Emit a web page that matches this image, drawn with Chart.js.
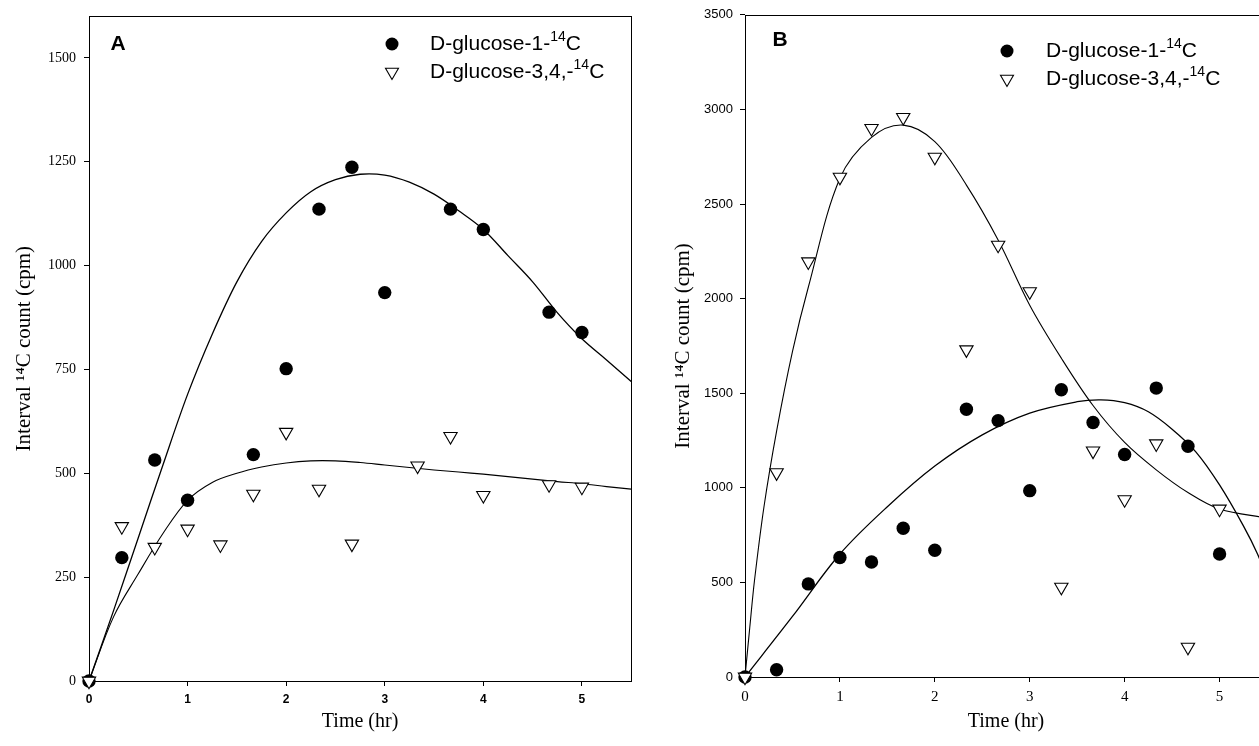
<!DOCTYPE html>
<html>
<head>
<meta charset="utf-8">
<script src="https://cdn.jsdelivr.net/npm/chart.js@4/dist/chart.umd.min.js"></script>
<style>
  html, body { margin: 0; padding: 0; background: #fff; overflow: hidden; }
  .panel { position: absolute; top: 0; width: 640px; height: 746px; }
  #panelA { left: 0; }
  #panelB { left: 640px; }
</style>
</head>
<body>
<div class="panel" id="panelA"><canvas id="chartA"></canvas></div>
<div class="panel" id="panelB"><canvas id="chartB"></canvas></div>
<script>
// ---- data ----
const seriesNames = ['D-glucose-1-\u00B9\u2074C', 'D-glucose-3,4,-\u00B9\u2074C'];
const legendParts = [['D-glucose-1-', '14', 'C'], ['D-glucose-3,4,-', '14', 'C']];

const xTicks = [0, 1, 2, 3, 4, 5];
const yTicksA = [0, 250, 500, 750, 1000, 1250, 1500];
const yTicksB = [0, 500, 1000, 1500, 2000, 2500, 3000, 3500];

// panel A, measured points
const timeA1 = [0, 0.333, 0.667, 1, 1.667, 2, 2.333, 2.667, 3, 3.667, 4, 4.667, 5];
const glc1A = [0, 297, 532, 435, 545, 752, 1136, 1237, 935, 1136, 1087, 888, 839];
const timeA34 = [0, 0.333, 0.667, 1, 1.333, 1.667, 2, 2.333, 2.667, 3.333, 3.667, 4, 4.667, 5];
const glc34A = [0, 372, 322, 366, 328, 450, 599, 462, 330, 518, 589, 447, 473, 467];

// panel A, fitted curves (read at these times)
const fitTimeA = [0, 0.25, 0.5, 0.75, 1, 1.25, 1.5, 1.75, 2, 2.25, 2.5, 2.75, 3, 3.25, 3.5, 3.75, 4, 4.25, 4.5, 4.75, 5, 5.25, 5.5];
const fit1A = [0, 170, 345, 520, 690, 835, 961, 1058, 1127, 1178, 1207, 1220, 1218, 1201, 1172, 1132, 1087, 1024, 961, 887, 824, 773, 721];
const fit34A = [0, 155, 258, 355, 435, 478, 500, 515, 525, 530, 530, 526, 520, 514, 508, 503, 498, 492, 486, 480, 475, 468, 462];

// panel B, measured points
const timeB1 = [0, 0.333, 0.667, 1, 1.333, 1.667, 2, 2.333, 2.667, 3, 3.333, 3.667, 4, 4.333, 4.667, 5];
const glc1B = [0, 38, 492, 632, 608, 786, 670, 1415, 1355, 985, 1518, 1345, 1176, 1527, 1220, 650];
const timeB34 = [0, 0.333, 0.667, 1, 1.333, 1.667, 2, 2.333, 2.667, 3, 3.333, 3.667, 4, 4.333, 4.667, 5];
const glc34B = [0, 1080, 2195, 2642, 2900, 2958, 2748, 1730, 2283, 2037, 475, 1195, 938, 1233, 158, 888];

// panel B, fitted curves
const fitTimeB34 = [0, 0.05, 0.1, 0.2, 0.333, 0.5, 0.667, 1, 1.333, 1.667, 2, 2.333, 2.667, 3, 3.333, 3.667, 4, 4.333, 4.667, 5, 5.5];
const fit34B = [0, 260, 510, 900, 1300, 1720, 2060, 2636, 2852, 2917, 2830, 2600, 2310, 1965, 1685, 1435, 1240, 1095, 975, 888, 840];
const fitTimeB1 = [0, 0.5, 1, 1.5, 2, 2.5, 3, 3.5, 3.75, 4, 4.25, 4.5, 4.75, 5, 5.25, 5.4, 5.5];
const fit1B = [0, 320, 650, 900, 1115, 1280, 1395, 1455, 1465, 1450, 1402, 1310, 1190, 1015, 800, 650, 520];

const SERIF = '"Liberation Serif", "Times New Roman", serif';
const SANS = '"Liberation Sans", Arial, sans-serif';

function pts(xs, ys) {
  return xs.map((x, i) => ({ x: x, y: ys[i] }));
}

function drawMarker(ctx, kind, x, y) {
  ctx.beginPath();
  if (kind === 0) {
    ctx.arc(x, y, 6.5, 0, Math.PI * 2);
    ctx.fillStyle = '#000';
    ctx.fill();
  } else {
    const r = 7.5, s = r * Math.sin(Math.PI / 3);
    ctx.moveTo(x, y + r);
    ctx.lineTo(x - s, y - r / 2);
    ctx.lineTo(x + s, y - r / 2);
    ctx.closePath();
    ctx.fillStyle = '#fff';
    ctx.fill();
    ctx.strokeStyle = '#000';
    ctx.lineWidth = 1.1;
    ctx.stroke();
  }
}

function drawSuperText(ctx, parts, x, y) {
  ctx.fillStyle = '#000';
  ctx.textAlign = 'left';
  ctx.textBaseline = 'middle';
  ctx.font = '21px ' + SANS;
  ctx.fillText(parts[0], x, y);
  x += ctx.measureText(parts[0]).width;
  ctx.font = '14px ' + SANS;
  ctx.fillText(parts[1], x, y - 7);
  x += ctx.measureText(parts[1]).width;
  ctx.font = '21px ' + SANS;
  ctx.fillText(parts[2], x, y);
}

const panelDecor = {
  id: 'panelDecor',
  beforeDatasetsDraw(chart) {
    const { ctx, chartArea: a } = chart;
    ctx.save();
    ctx.strokeStyle = '#000';
    ctx.lineWidth = 1;
    ctx.strokeRect(Math.round(a.left) + 0.5, Math.round(a.top) + 0.5,
      Math.round(a.right - a.left), Math.round(a.bottom - a.top));
    ctx.restore();
  },
  afterDatasetsDraw(chart, args, opts) {
    const ctx = chart.ctx;
    ctx.save();
    ctx.fillStyle = '#000';
    ctx.font = 'bold 21px ' + SANS;
    ctx.textAlign = 'center';
    ctx.textBaseline = 'middle';
    ctx.fillText(opts.letter, opts.letterX, opts.letterY);
    legendParts.forEach((parts, i) => {
      drawMarker(ctx, i, opts.markerX, opts.legendY[i]);
      drawSuperText(ctx, parts, opts.textX, opts.legendY[i]);
    });
    ctx.restore();
  }
};

function makePanel(id, p) {
  const datasets = [
    {
      label: seriesNames[1], data: pts(p.t34, p.v34), showLine: false,
      pointStyle: 'triangle', rotation: 180, pointRadius: 7.7,
      backgroundColor: '#fff', borderColor: '#000', borderWidth: 1.1, clip: false
    },
    {
      label: seriesNames[0], data: pts(p.t1, p.v1), showLine: false,
      pointStyle: 'circle', pointRadius: 6.7,
      backgroundColor: '#000', borderColor: '#000', borderWidth: 0, clip: false
    },
    {
      label: 'fit 1', data: pts(p.ft1, p.f1), showLine: true, pointRadius: 0,
      borderColor: '#000', borderWidth: 1.3, tension: 0.35
    },
    {
      label: 'fit 3,4', data: pts(p.ft34, p.f34), showLine: true, pointRadius: 0,
      borderColor: '#000', borderWidth: 1.1, tension: 0.35
    }
  ];
  return new Chart(document.getElementById(id), {
    type: 'scatter',
    data: { datasets: datasets },
    plugins: [panelDecor],
    options: {
      responsive: true,
      maintainAspectRatio: false,
      animation: false,
      events: [],
      layout: { padding: p.padding },
      plugins: {
        legend: { display: false },
        tooltip: { enabled: false },
        panelDecor: p.decor
      },
      scales: {
        x: {
          type: 'linear', position: 'bottom', min: 0, max: 5.5,
          afterBuildTicks: s => { s.ticks = xTicks.map(v => ({ value: v })); },
          afterFit: s => { s.height = p.xAxisHeight; },
          grid: { drawOnChartArea: false, drawTicks: true, tickLength: 5, color: '#000', tickColor: '#000' },
          border: { display: false },
          ticks: { color: '#000', padding: p.xTickPad, font: p.xTickFont, callback: v => String(v), maxRotation: 0 },
          title: {
            display: true, text: 'Time (hr)', color: '#000',
            font: { family: SERIF, size: 20, lineHeight: 1.2 }, padding: { top: 0, bottom: 12 }
          }
        },
        y: {
          type: 'linear', position: 'left', min: 0, max: p.yMax,
          afterBuildTicks: s => { s.ticks = p.yTicks.map(v => ({ value: v })); },
          afterFit: s => { s.width = p.yAxisWidth; },
          grid: { drawOnChartArea: false, drawTicks: true, tickLength: 5, color: '#000', tickColor: '#000' },
          border: { display: false },
          ticks: { color: '#000', padding: p.yTickPad, font: p.yTickFont, callback: v => String(v) },
          title: {
            display: true, text: 'Interval \u00B9\u2074C count (cpm)', color: '#000',
            font: { family: SERIF, size: 21, lineHeight: 1.2 }, padding: { top: p.yTitlePad, bottom: 0 }
          }
        }
      }
    }
  });
}

makePanel('chartA', {
  t1: timeA1, v1: glc1A, t34: timeA34, v34: glc34A,
  ft1: fitTimeA, f1: fit1A, ft34: fitTimeA, f34: fit34A,
  yMax: 1600, yTicks: yTicksA,
  padding: { left: 0, top: 14, right: 7, bottom: 0 },
  yAxisWidth: 89, xAxisHeight: 65,
  yTickPad: 8, xTickPad: 6, yTitlePad: 12,
  yTickFont: { family: SERIF, size: 14 },
  xTickFont: { family: SANS, size: 12, weight: 'bold' },
  decor: { letter: 'A', letterX: 118, letterY: 44, markerX: 392, textX: 430, legendY: [44, 72] }
});

makePanel('chartB', {
  t1: timeB1, v1: glc1B, t34: timeB34, v34: glc34B,
  ft1: fitTimeB1, f1: fit1B, ft34: fitTimeB34, f34: fit34B,
  yMax: 3500, yTicks: yTicksB,
  padding: { left: 0, top: 13, right: 13, bottom: 0 },
  yAxisWidth: 105, xAxisHeight: 69,
  yTickPad: 7, xTickPad: 6, yTitlePad: 31,
  yTickFont: { family: SANS, size: 13 },
  xTickFont: { family: SERIF, size: 15 },
  decor: { letter: 'B', letterX: 140, letterY: 40, markerX: 367, textX: 406, legendY: [51, 79] }
});
</script>
</body>
</html>
